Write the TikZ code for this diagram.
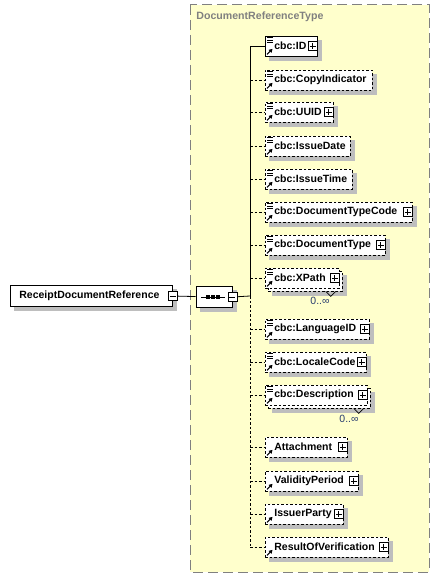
\documentclass[tikz,border=0pt]{standalone}
\usepackage{fontspec}
\setmainfont{Liberation Sans}
\usetikzlibrary{shapes.misc,arrows.meta}
\hyphenpenalty=10000
\definecolor{typefill}{RGB}{255,255,204}
\definecolor{shadegray}{RGB}{190,190,190}
\definecolor{occurblue}{RGB}{40,60,110}
\tikzstyle{elem}=[rectangle,draw,fill=white,line width=0.8pt,minimum height=20pt,inner xsep=0pt,inner ysep=0pt,text width=#1,align=left,anchor=west,font=\bfseries\fontsize{10.5}{12}\selectfont,execute at begin node={\hspace*{9pt}}]
\tikzstyle{opt}=[dash pattern=on 2.5pt off 2pt]
\tikzstyle{boxshade}=[draw=shadegray,fill=shadegray,solid]
\tikzstyle{seqbox}=[chamfered rectangle,chamfered rectangle xsep=6pt,chamfered rectangle ysep=6pt,minimum width=36pt,minimum height=21pt,inner sep=0pt]
\tikzstyle{plusbox}=[rectangle,draw,fill=white,line width=0.8pt,solid,minimum size=9pt,inner sep=0pt,path picture={\draw[line width=0.8pt] ([xshift=1.5pt]path picture bounding box.west) -- ([xshift=-1.5pt]path picture bounding box.east) ([yshift=-1.5pt]path picture bounding box.north) -- ([yshift=1.5pt]path picture bounding box.south);}]
\tikzstyle{minusbox}=[rectangle,draw,fill=white,line width=0.8pt,minimum size=9pt,inner sep=0pt,path picture={\draw[line width=0.8pt] ([xshift=1.5pt]path picture bounding box.west) -- ([xshift=-1.5pt]path picture bounding box.east);}]
\tikzstyle{occur}=[font=\fontsize{10.5}{12}\selectfont,text=occurblue,inner sep=0pt]

\begin{document}
\begin{tikzpicture}[x=1pt,y=-1pt,line width=0.8pt]
	\useasboundingbox (0,0) rectangle (440,578);
	% complex type frame
	\draw[fill=typefill,draw=gray,line width=1pt,dash pattern=on 10pt off 5pt] (190,5) rectangle (429,572);
	\node[anchor=west,inner sep=0pt,text=gray,font=\bfseries\fontsize{10.6}{12}\selectfont] (tname) at (196,17) {DocumentReferenceType};
	% root element and sequence
	\node[elem=162pt,minimum height=21pt,boxshade] (root-s) at (14,300) {\phantom{ReceiptDocumentReference}};
	\node[elem=162pt,minimum height=21pt] (root) at (10,296) {ReceiptDocumentReference};
	\node[minusbox] (root-m) at (root.east) {};
	\node[seqbox,boxshade] (seq-s) at (218,301) {};
	\node[seqbox,draw,fill=white] (seq) at (214,297) {};
	\draw ([xshift=-13pt]seq.center) -- ([xshift=11pt]seq.center);
	\foreach \dx in {-6,-1,4}
		\fill ([xshift=\dx pt]seq.center) +(-1.8,-1.8) rectangle +(1.8,1.8);
	\node[minusbox] (seq-m) at (seq.east) {};
	\coordinate (top) at (250,46);
	\coordinate (trunk) at (250,296);
	\coordinate (bot) at (250,547);
	\draw (root-m) -- (seq);
	\draw (seq-m) -- (trunk);
	\draw (top) -- (trunk);
	\draw[opt] (trunk) -- (bot);
	% children of the sequence
	\node[elem=52pt,boxshade] (id-s) at (269,50) {\phantom{cbc:ID}};
	\node[elem=52pt] (id) at (265,46) {cbc:ID};
	\foreach \n/\y/\w/\t in {copy/80/107/cbc:CopyIndicator, uuid/112/68/cbc:UUID, idate/146/85/cbc:IssueDate, itime/179/87/cbc:IssueTime, dtc/212/147/cbc:DocumentTypeCode, dtype/245/120/cbc:DocumentType, lang/329/104/cbc:LanguageID, locale/362/101/cbc:LocaleCode, attach/447/82/Attachment, valid/481/93/ValidityPeriod, issuer/514/78/IssuerParty, result/547/123/ResultOfVerification} {
		\node[elem=\w pt,boxshade] (\n-s) at (269,\y+4) {\phantom{\t}};
		\node[elem=\w pt,opt] (\n) at (265,\y) {\t};
	}
	% repeated elements
	\foreach \n/\y/\w/\t in {xpath/278/74/cbc:XPath, descr/395/102/cbc:Description} {
		\node[elem=\w pt,boxshade] (\n-s) at (272,\y+7) {\phantom{\t}};
		\node[elem=\w pt,opt] (\n-c) at (268,\y+3) {\phantom{\t}};
		\node[elem=\w pt,opt] (\n) at (265,\y) {\t};
	}
	\node[occur] (xpath-n) at (320,301) {0..∞};
	\node[occur] (descr-n) at (349,419) {0..∞};
	% connectors
	\draw (top) -- (id);
	\foreach \n in {copy,uuid,idate,itime,dtc,dtype,xpath,lang,locale,descr,attach,valid,issuer,result}
		\draw[opt] (\n.west -| trunk) -- (\n);
	% expand boxes
	\foreach \n in {id,uuid,dtc,dtype,xpath,lang,locale,descr,attach,valid,issuer,result}
		\node[plusbox] (\n-p) at ([xshift=-5pt]\n.east) {};
	% multiplicity notches
	\foreach \n in {xpath,descr}
		\draw[line width=0.7pt] ([xshift=-14pt,yshift=-3pt]\n.south east) -- ([xshift=-9pt,yshift=-8pt]\n.south east) -- ([xshift=-4pt,yshift=-3pt]\n.south east);
	% icons
	\foreach \n in {id,copy,uuid,idate,itime,dtc,dtype,xpath,lang,locale,descr}
		\foreach \dy in {2,4.5,7}
			\draw[line width=0.8pt] ([xshift=2pt,yshift=-\dy pt]\n.north west) -- ([xshift=7.5pt,yshift=-\dy pt]\n.north west);
	\foreach \n in {id,copy,uuid,idate,itime,dtc,dtype,xpath,lang,locale,descr,attach,valid,issuer,result}
		\draw[line width=1pt,-{Triangle[length=3.5pt,width=4pt]}] ([xshift=2pt,yshift=2pt]\n.south west) -- ([xshift=7.5pt,yshift=7.5pt]\n.south west);
\end{tikzpicture}
\end{document}
